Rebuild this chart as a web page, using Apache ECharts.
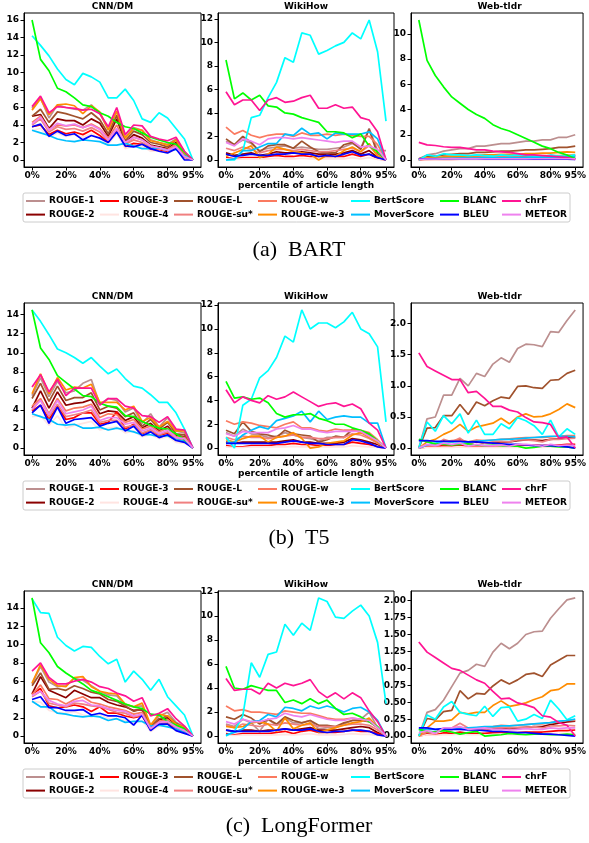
<!DOCTYPE html>
<html>
<head>
<meta charset="utf-8">
<script src="https://cdn.jsdelivr.net/npm/echarts@6.0.0/dist/echarts.min.js"></script>
<style>
  html, body { margin: 0; padding: 0; background: #fff; }
  #chart { width: 589px; height: 843px; }
</style>
</head>
<body>
<div id="chart"></div>
<script>
// metric names, in legend (column) order
const metrics = ['ROUGE-1', 'ROUGE-2', 'ROUGE-3', 'ROUGE-4', 'ROUGE-L', 'ROUGE-su*', 'ROUGE-w',
                 'ROUGE-we-3', 'BertScore', 'MoverScore', 'BLANC', 'BLEU', 'chrF', 'METEOR'];
const pcts = [0, 5, 10, 15, 20, 25, 30, 35, 40, 45, 50, 55, 60, 65, 70, 75, 80, 85, 90, 95];
const xTickIdx = [0, 4, 8, 12, 16, 19];
const datasetNames = ['CNN/DM', 'WikiHow', 'Web-tldr'];
const captions = ['(a)  BART', '(b)  T5', '(c)  LongFormer'];

// ---- (a) BART ----
const bartCnn = {
    'ROUGE-1':    [5.9, 7.1, 4.8, 6.3, 6.0, 5.8, 5.7, 6.3, 5.3, 3.5, 5.5, 2.6, 3.7, 3.4, 2.3, 2.0, 1.8, 2.4, 0.7, 0],
    'ROUGE-2':    [5.0, 5.2, 3.6, 4.7, 4.5, 4.5, 4.0, 4.7, 4.2, 2.7, 4.7, 2.0, 2.9, 2.5, 1.7, 1.5, 1.3, 2.0, 0.4, 0],
    'ROUGE-3':    [3.8, 4.0, 2.9, 3.4, 3.0, 3.2, 2.9, 3.4, 2.8, 2.0, 3.3, 1.5, 1.9, 1.8, 1.2, 1.1, 0.9, 1.4, 0.2, 0],
    'ROUGE-4':    [3.4, 3.6, 2.6, 3.1, 2.7, 2.9, 2.6, 3.0, 2.5, 1.8, 3.0, 1.3, 1.6, 1.6, 1.0, 1.0, 0.8, 1.2, 0.2, 0],
    'ROUGE-L':    [5.0, 5.8, 4.3, 5.5, 5.3, 5.0, 4.7, 5.4, 4.6, 3.0, 5.1, 2.2, 3.3, 2.9, 2.0, 1.8, 1.5, 2.3, 0.5, 0],
    'ROUGE-su*':  [4.0, 4.7, 3.2, 3.8, 3.5, 3.6, 3.3, 3.7, 3.2, 2.2, 3.5, 1.8, 2.3, 2.0, 1.4, 1.3, 1.1, 1.6, 0.3, 0],
    'ROUGE-w':    [4.3, 5.0, 3.5, 4.0, 3.9, 4.0, 3.7, 4.1, 3.6, 2.5, 4.0, 1.9, 2.6, 2.3, 1.6, 1.4, 1.2, 1.8, 0.4, 0],
    'ROUGE-we-3': [5.7, 7.0, 5.2, 6.3, 6.4, 6.2, 5.3, 6.2, 5.5, 3.4, 5.6, 2.5, 3.6, 3.4, 2.2, 2.0, 1.7, 2.3, 0.7, 0],
    'BertScore':  [14.2, 13.1, 11.9, 10.4, 9.2, 8.6, 9.9, 9.5, 8.9, 7.1, 7.1, 8.1, 6.8, 4.7, 4.3, 5.4, 4.8, 3.6, 2.4, 0],
    'MoverScore': [3.4, 3.1, 2.8, 2.4, 2.2, 2.1, 2.3, 2.2, 2.1, 1.7, 1.7, 1.9, 1.6, 1.3, 1.3, 1.4, 1.1, 1.2, 0.5, 0],
    'BLANC':      [16.0, 11.5, 10.2, 8.2, 7.8, 7.1, 6.3, 6.1, 5.4, 5.0, 4.3, 3.8, 3.6, 3.1, 2.6, 2.3, 2.0, 1.8, 0.9, 0],
    'BLEU':       [3.8, 4.1, 2.7, 3.3, 2.8, 3.0, 2.3, 2.8, 2.5, 2.0, 3.2, 1.6, 1.5, 1.8, 1.3, 1.0, 0.8, 1.3, 0.0, 0],
    'chrF':       [6.1, 7.3, 5.4, 6.1, 6.0, 5.9, 5.7, 5.8, 5.3, 3.8, 6.0, 2.9, 4.0, 3.9, 2.7, 2.4, 2.2, 2.6, 1.0, 0],
    'METEOR':     [4.1, 4.9, 3.4, 4.2, 3.9, 4.1, 3.7, 4.0, 3.5, 2.3, 3.6, 2.0, 2.6, 2.3, 1.6, 1.4, 1.1, 1.5, 0.4, 0]
};
const bartWiki = {
    'ROUGE-1':    [1.6, 1.3, 1.7, 1.4, 0.8, 1.0, 1.1, 1.2, 1.0, 1.1, 1.0, 0.9, 0.9, 1.0, 1.1, 1.4, 1.0, 2.7, 0.8, 0.8],
    'ROUGE-2':    [0.6, 0.4, 0.5, 0.6, 0.4, 0.5, 0.7, 0.6, 0.6, 0.7, 0.6, 0.5, 0.5, 0.5, 0.6, 0.8, 0.5, 0.8, 0.2, 0],
    'ROUGE-3':    [0.2, 0.1, 0.2, 0.2, 0.2, 0.3, 0.4, 0.3, 0.3, 0.4, 0.3, 0.3, 0.3, 0.3, 0.3, 0.5, 0.3, 0.5, 0.1, 0],
    'ROUGE-4':    [0.1, 0.05, 0.1, 0.1, 0.1, 0.1, 0.15, 0.1, 0.1, 0.15, 0.1, 0.1, 0.1, 0.1, 0.1, 0.2, 0.1, 0.2, 0.05, 0],
    'ROUGE-L':    [1.8, 1.3, 2.0, 1.5, 0.7, 1.2, 1.3, 1.3, 1.0, 1.6, 1.1, 0.7, 0.6, 0.6, 1.3, 1.5, 0.9, 2.6, 0.5, 0],
    'ROUGE-su*':  [1.0, 0.8, 1.1, 0.9, 0.6, 0.8, 0.9, 0.9, 0.8, 0.9, 0.8, 0.7, 0.7, 0.8, 0.9, 1.0, 0.7, 1.2, 0.4, 0],
    'ROUGE-w':    [2.8, 2.2, 2.5, 2.1, 1.9, 2.1, 2.2, 2.2, 2.0, 2.3, 2.1, 2.1, 2.2, 2.1, 2.2, 2.1, 2.0, 2.0, 1.3, 0],
    'ROUGE-we-3': [0.3, 0.6, 0.9, 1.2, 0.2, 0.5, 1.1, 0.9, 0.7, 0.6, 0.5, 0.0, 0.4, 0.3, 0.8, 1.1, 0.7, 1.4, 0.3, 0],
    'BertScore':  [0.0, 0.0, 0.8, 3.6, 3.8, 5.3, 6.6, 8.7, 8.3, 10.8, 10.6, 9.0, 9.3, 9.7, 10.0, 10.8, 10.3, 11.9, 9.2, 3.3],
    'MoverScore': [0.0, 0.1, 0.8, 0.8, 1.1, 1.4, 1.4, 2.2, 2.1, 2.7, 2.2, 2.3, 1.8, 2.3, 2.2, 2.2, 2.2, 2.4, 1.8, 0],
    'BLANC':      [8.5, 5.2, 5.7, 5.1, 5.5, 4.6, 4.5, 4.0, 3.9, 3.6, 3.4, 3.2, 2.4, 2.4, 2.3, 1.9, 2.2, 1.2, 0.7, 0],
    'BLEU':       [0.5, 0.3, 0.4, 0.5, 0.4, 0.4, 0.5, 0.5, 0.6, 0.5, 0.5, 0.3, 0.4, 0.3, 0.5, 0.7, 0.4, 0.5, 0.2, 0],
    'chrF':       [5.8, 4.7, 5.1, 5.1, 4.2, 5.1, 5.3, 4.9, 5.0, 5.3, 5.5, 4.4, 4.4, 4.7, 4.4, 4.5, 3.6, 3.4, 2.4, 0],
    'METEOR':     [1.5, 1.2, 1.8, 1.6, 1.3, 1.8, 1.9, 1.9, 1.8, 1.9, 1.8, 1.7, 1.6, 1.5, 1.6, 1.6, 1.1, 1.2, 0.9, 0]
};
const bartTldr = {
    'ROUGE-1':    [0.1, 0.4, 0.5, 0.7, 0.8, 0.9, 0.9, 1.1, 1.1, 1.2, 1.3, 1.3, 1.4, 1.5, 1.5, 1.6, 1.6, 1.8, 1.8, 2.0],
    'ROUGE-2':    [0.0, 0.1, 0.12, 0.15, 0.17, 0.2, 0.2, 0.22, 0.23, 0.24, 0.26, 0.27, 0.28, 0.29, 0.3, 0.3, 0.32, 0.33, 0.34, 0.35],
    'ROUGE-3':    [0.0, 0.03, 0.04, 0.05, 0.05, 0.06, 0.06, 0.06, 0.07, 0.07, 0.08, 0.08, 0.08, 0.09, 0.09, 0.1, 0.1, 0.1, 0.11, 0.11],
    'ROUGE-4':    [0.0, 0.01, 0.01, 0.02, 0.02, 0.02, 0.02, 0.02, 0.02, 0.03, 0.03, 0.03, 0.03, 0.03, 0.03, 0.03, 0.04, 0.04, 0.04, 0.04],
    'ROUGE-L':    [0.1, 0.3, 0.3, 0.4, 0.45, 0.5, 0.5, 0.6, 0.6, 0.65, 0.7, 0.7, 0.75, 0.8, 0.8, 0.85, 0.9, 1.0, 1.0, 1.1],
    'ROUGE-su*':  [0.0, 0.08, 0.1, 0.12, 0.13, 0.14, 0.14, 0.15, 0.15, 0.16, 0.16, 0.17, 0.17, 0.18, 0.18, 0.19, 0.19, 0.2, 0.2, 0.21],
    'ROUGE-w':    [0.0, 0.15, 0.18, 0.2, 0.22, 0.24, 0.25, 0.27, 0.28, 0.29, 0.3, 0.3, 0.31, 0.32, 0.33, 0.34, 0.34, 0.35, 0.36, 0.37],
    'ROUGE-we-3': [0.1, 0.15, 0.2, 0.25, 0.3, 0.3, 0.3, 0.35, 0.4, 0.4, 0.45, 0.45, 0.45, 0.5, 0.5, 0.55, 0.55, 0.6, 0.65, 0.6],
    'BertScore':  [0.0, 0.4, 0.3, 0.5, 0.4, 0.4, 0.35, 0.4, 0.35, 0.3, 0.4, 0.35, 0.4, 0.35, 0.3, 0.25, 0.4, 0.3, 0.3, 0.4],
    'MoverScore': [0.1, 0.1, 0.12, 0.13, 0.14, 0.15, 0.15, 0.16, 0.17, 0.17, 0.18, 0.19, 0.2, 0.2, 0.21, 0.22, 0.22, 0.23, 0.24, 0.25],
    'BLANC':      [11.1, 7.9, 6.7, 5.8, 5.0, 4.5, 4.0, 3.6, 3.3, 2.8, 2.5, 2.3, 2.0, 1.7, 1.4, 1.1, 0.9, 0.6, 0.4, 0.1],
    'BLEU':       [0.1, 0.1, 0.1, 0.1, 0.1, 0.1, 0.1, 0.1, 0.09, 0.09, 0.09, 0.08, 0.08, 0.08, 0.07, 0.07, 0.07, 0.06, 0.06, 0.05],
    'chrF':       [1.4, 1.2, 1.15, 1.05, 1.0, 1.0, 0.9, 0.8, 0.8, 0.7, 0.65, 0.6, 0.5, 0.4, 0.4, 0.35, 0.3, 0.25, 0.2, 0.05],
    'METEOR':     [0.05, 0.08, 0.08, 0.1, 0.1, 0.1, 0.1, 0.1, 0.1, 0.1, 0.1, 0.1, 0.1, 0.1, 0.1, 0.1, 0.1, 0.1, 0.1, 0.1]
};

// ---- (b) T5 ----
const t5Cnn = {
    'ROUGE-1':    [5.5, 7.4, 5.4, 7.0, 5.8, 6.0, 6.8, 7.2, 4.6, 5.2, 5.0, 3.8, 4.2, 2.6, 3.6, 2.2, 3.2, 1.8, 1.6, 0],
    'ROUGE-2':    [4.2, 6.0, 4.2, 5.9, 4.5, 4.7, 4.8, 5.1, 3.6, 3.9, 3.8, 2.9, 3.3, 2.1, 2.6, 1.8, 2.3, 1.3, 1.2, 0],
    'ROUGE-3':    [3.9, 4.5, 3.0, 4.4, 3.0, 3.2, 3.7, 3.7, 2.5, 2.7, 3.8, 2.0, 2.5, 1.5, 1.9, 1.3, 1.6, 0.9, 0.8, 0],
    'ROUGE-4':    [3.3, 3.4, 2.4, 3.4, 2.1, 2.4, 2.6, 2.8, 1.9, 2.1, 2.2, 1.6, 1.8, 1.2, 1.4, 1.0, 1.2, 0.6, 0.5, 0],
    'ROUGE-L':    [5.2, 6.8, 4.9, 6.5, 5.0, 5.3, 5.3, 5.8, 4.0, 4.4, 4.2, 3.3, 3.7, 2.3, 3.0, 2.0, 2.7, 1.5, 1.4, 0],
    'ROUGE-su*':  [4.0, 5.1, 3.3, 4.6, 3.3, 3.5, 3.7, 4.0, 2.7, 2.9, 2.9, 2.2, 2.4, 1.6, 1.9, 1.4, 1.7, 1.0, 0.9, 0],
    'ROUGE-w':    [4.4, 5.2, 3.6, 5.2, 3.9, 4.2, 4.3, 4.6, 3.2, 3.6, 3.5, 2.7, 3.0, 2.0, 2.3, 1.7, 2.1, 1.2, 1.1, 0],
    'ROUGE-we-3': [5.7, 7.8, 5.7, 7.4, 6.1, 6.4, 6.3, 6.7, 4.8, 4.8, 4.8, 4.0, 4.4, 2.8, 3.2, 2.2, 2.8, 1.8, 1.8, 0],
    'BertScore':  [14.5, 13.3, 11.9, 10.4, 10.0, 9.5, 8.9, 9.5, 8.6, 7.8, 8.3, 7.3, 6.5, 6.3, 5.6, 4.8, 4.8, 3.7, 2.0, 0],
    'MoverScore': [3.6, 3.3, 3.0, 2.5, 2.4, 2.5, 2.1, 2.1, 2.2, 1.9, 2.1, 1.9, 1.7, 1.4, 1.4, 1.2, 1.3, 0.9, 0.7, 0],
    'BLANC':      [14.5, 10.5, 9.3, 7.6, 6.9, 6.2, 5.5, 5.4, 4.7, 4.4, 4.3, 3.4, 3.3, 2.8, 2.4, 2.1, 2.0, 1.5, 0.9, 0],
    'BLEU':       [3.7, 4.5, 2.6, 4.3, 2.6, 3.0, 3.1, 3.2, 2.3, 2.6, 2.8, 1.8, 2.3, 1.3, 1.7, 1.1, 1.4, 0.8, 0.6, 0],
    'chrF':       [6.4, 7.7, 5.9, 7.2, 5.5, 6.3, 6.3, 6.3, 4.5, 5.2, 5.2, 4.4, 4.2, 3.4, 3.3, 2.7, 3.3, 2.0, 1.9, 0],
    'METEOR':     [4.1, 5.0, 3.5, 5.0, 3.6, 3.8, 4.0, 4.4, 2.9, 3.2, 3.2, 2.5, 2.7, 1.8, 2.1, 1.5, 1.9, 1.1, 1.0, 0]
};
const t5Wiki = {
    'ROUGE-1':    [1.3, 1.0, 1.6, 1.2, 1.1, 0.9, 1.0, 1.3, 1.1, 0.9, 0.8, 0.6, 0.9, 0.9, 0.9, 1.5, 1.4, 1.1, 0.6, 0],
    'ROUGE-2':    [0.5, 0.4, 0.5, 0.5, 0.5, 0.5, 0.5, 0.6, 0.7, 0.5, 0.5, 0.4, 0.4, 0.4, 0.5, 0.8, 0.7, 0.5, 0.3, 0],
    'ROUGE-3':    [0.2, 0.1, 0.1, 0.2, 0.2, 0.2, 0.3, 0.3, 0.4, 0.3, 0.3, 0.2, 0.2, 0.3, 0.3, 0.5, 0.4, 0.3, 0.1, 0],
    'ROUGE-4':    [0.1, 0.05, 0.05, 0.1, 0.1, 0.1, 0.1, 0.1, 0.15, 0.1, 0.1, 0.1, 0.1, 0.1, 0.1, 0.2, 0.15, 0.1, 0.05, 0],
    'ROUGE-L':    [1.5, 1.2, 2.2, 1.4, 1.2, 1.1, 0.9, 1.5, 1.2, 1.1, 1.0, 0.5, 0.7, 1.0, 0.9, 1.6, 1.3, 1.2, 0.5, 0],
    'ROUGE-su*':  [0.9, 0.7, 1.0, 0.9, 0.9, 0.8, 0.9, 1.0, 1.1, 0.9, 0.9, 0.8, 0.8, 0.9, 0.9, 1.2, 1.1, 0.8, 0.4, 0],
    'ROUGE-w':    [2.3, 2.0, 2.2, 2.1, 1.9, 1.8, 1.7, 2.0, 2.2, 1.7, 1.7, 1.5, 1.4, 1.6, 1.5, 1.5, 1.5, 1.3, 0.7, 0],
    'ROUGE-we-3': [0.7, 0.5, 0.8, 1.0, 1.0, 0.5, 0.9, 1.0, 1.3, 0.8, 0.0, 0.1, 0.4, 0.5, 0.6, 1.1, 1.3, 0.9, 0.5, 0],
    'BertScore':  [0.9, 0.0, 3.6, 4.1, 5.9, 6.5, 7.6, 9.4, 8.9, 11.6, 10.0, 10.5, 10.5, 10.1, 10.6, 11.4, 10.0, 9.6, 8.5, 2.2],
    'MoverScore': [0.4, 0.5, 1.1, 1.5, 1.8, 1.6, 2.3, 2.5, 2.7, 3.1, 2.2, 3.1, 2.4, 2.6, 2.7, 2.6, 2.6, 2.1, 2.1, 0],
    'BLANC':      [5.6, 4.2, 4.3, 4.1, 4.2, 3.8, 2.9, 2.6, 2.8, 2.8, 2.9, 2.5, 2.3, 2.0, 2.0, 1.7, 1.5, 1.2, 0.6, 0],
    'BLEU':       [0.4, 0.4, 0.4, 0.4, 0.4, 0.4, 0.4, 0.5, 0.6, 0.5, 0.4, 0.4, 0.3, 0.3, 0.3, 0.7, 0.6, 0.4, 0.1, 0],
    'chrF':       [4.9, 3.8, 4.3, 4.0, 3.8, 4.4, 4.1, 4.3, 4.7, 4.3, 3.9, 3.5, 3.7, 3.8, 3.5, 3.7, 3.3, 2.1, 1.5, 0],
    'METEOR':     [1.2, 1.0, 1.4, 1.3, 1.3, 1.3, 1.6, 1.7, 1.9, 1.6, 1.6, 1.4, 1.3, 1.4, 1.4, 1.4, 1.4, 1.0, 0.6, 0]
};
const t5Tldr = {
    'ROUGE-1':    [0.0, 0.47, 0.5, 0.85, 0.85, 1.12, 1.0, 1.2, 1.15, 1.35, 1.45, 1.38, 1.6, 1.67, 1.66, 1.63, 1.87, 1.86, 2.05, 2.22],
    'ROUGE-2':    [0.0, 0.04, 0.05, 0.12, 0.1, 0.14, 0.08, 0.1, 0.08, 0.09, 0.1, 0.1, 0.12, 0.13, 0.13, 0.12, 0.14, 0.15, 0.17, 0.17],
    'ROUGE-3':    [0.0, 0.02, 0.02, 0.04, 0.03, 0.05, 0.02, 0.03, 0.03, 0.03, 0.04, 0.04, 0.04, 0.05, 0.05, 0.04, 0.05, 0.05, 0.06, 0.06],
    'ROUGE-4':    [0.0, 0.01, 0.01, 0.01, 0.01, 0.02, 0.01, 0.01, 0.01, 0.01, 0.01, 0.01, 0.01, 0.02, 0.02, 0.01, 0.02, 0.02, 0.02, 0.02],
    'ROUGE-L':    [0.0, 0.32, 0.33, 0.52, 0.52, 0.7, 0.54, 0.74, 0.68, 0.76, 0.82, 0.8, 0.99, 1.0, 0.97, 0.96, 1.09, 1.1, 1.2, 1.25],
    'ROUGE-su*':  [0.0, 0.05, 0.05, 0.14, 0.1, 0.16, 0.06, 0.12, 0.08, 0.1, 0.11, 0.1, 0.13, 0.13, 0.12, 0.1, 0.14, 0.14, 0.15, 0.16],
    'ROUGE-w':    [0.0, 0.05, 0.06, 0.1, 0.12, 0.13, 0.1, 0.13, 0.12, 0.13, 0.14, 0.15, 0.16, 0.17, 0.17, 0.17, 0.18, 0.19, 0.2, 0.2],
    'ROUGE-we-3': [0.0, 0.1, 0.14, 0.22, 0.28, 0.38, 0.27, 0.34, 0.37, 0.4, 0.48, 0.39, 0.5, 0.55, 0.5, 0.51, 0.55, 0.62, 0.71, 0.65],
    'BertScore':  [0.0, 0.42, 0.27, 0.52, 0.39, 0.55, 0.24, 0.45, 0.22, 0.22, 0.39, 0.31, 0.49, 0.44, 0.36, 0.22, 0.45, 0.18, 0.31, 0.22],
    'MoverScore': [0.0, 0.05, 0.08, 0.1, 0.1, 0.1, 0.1, 0.11, 0.12, 0.13, 0.14, 0.14, 0.15, 0.16, 0.17, 0.18, 0.19, 0.19, 0.19, 0.18],
    'BLANC':      [0.14, 0.1, 0.07, 0.06, 0.05, 0.06, 0.07, 0.05, 0.04, 0.05, 0.04, 0.03, 0.03, 0.0, 0.01, 0.03, 0.03, 0.02, 0.02, 0.0],
    'BLEU':       [0.12, 0.12, 0.11, 0.11, 0.11, 0.11, 0.1, 0.1, 0.09, 0.08, 0.07, 0.06, 0.06, 0.05, 0.04, 0.04, 0.04, 0.03, 0.02, 0.0],
    'chrF':       [1.53, 1.31, 1.24, 1.17, 1.1, 1.1, 0.89, 0.91, 0.8, 0.67, 0.67, 0.61, 0.58, 0.49, 0.42, 0.41, 0.38, 0.16, 0.18, 0.0],
    'METEOR':     [0.0, 0.06, 0.04, 0.08, 0.06, 0.08, 0.03, 0.06, 0.04, 0.04, 0.05, 0.03, 0.06, 0.06, 0.05, 0.03, 0.06, 0.04, 0.05, 0.04]
};

// ---- (c) LongFormer ----
const lfCnn = {
    'ROUGE-1':    [5.7, 7.6, 5.9, 5.4, 5.5, 6.3, 6.1, 5.5, 4.9, 4.5, 4.4, 3.4, 3.2, 3.3, 1.1, 2.2, 2.6, 1.5, 1.0, 0],
    'ROUGE-2':    [4.6, 6.5, 5.0, 4.6, 4.2, 5.0, 4.6, 4.2, 4.2, 3.7, 3.4, 3.2, 2.8, 2.9, 0.9, 1.8, 2.0, 1.2, 0.8, 0],
    'ROUGE-3':    [4.6, 5.2, 3.3, 3.1, 3.2, 3.4, 3.2, 2.7, 3.2, 2.5, 2.5, 2.2, 2.0, 2.2, 0.7, 1.5, 1.4, 0.8, 0.5, 0],
    'ROUGE-4':    [3.8, 3.7, 2.8, 2.6, 2.5, 2.7, 2.3, 2.1, 2.4, 1.9, 1.9, 1.7, 1.5, 1.7, 0.5, 1.1, 1.1, 0.6, 0.3, 0],
    'ROUGE-L':    [5.5, 6.9, 5.1, 5.2, 5.0, 5.5, 5.2, 4.8, 4.6, 4.0, 3.8, 3.3, 2.7, 3.0, 1.0, 1.9, 2.2, 1.4, 0.9, 0],
    'ROUGE-su*':  [4.3, 4.9, 3.6, 3.4, 3.2, 3.6, 3.5, 3.3, 3.2, 2.9, 2.6, 2.5, 2.1, 2.3, 0.8, 1.4, 1.5, 0.9, 0.6, 0],
    'ROUGE-w':    [4.5, 5.6, 4.1, 4.0, 3.5, 4.0, 4.3, 3.7, 3.5, 3.2, 3.0, 2.8, 2.4, 2.6, 0.9, 1.6, 1.8, 1.1, 0.7, 0],
    'ROUGE-we-3': [5.8, 7.8, 6.2, 5.5, 5.4, 6.4, 6.5, 5.4, 4.9, 4.7, 4.6, 3.5, 3.2, 3.6, 1.2, 2.4, 2.2, 1.3, 1.0, 0],
    'BertScore':  [15.0, 13.5, 13.4, 10.8, 9.9, 9.3, 9.8, 9.7, 8.7, 7.9, 8.4, 5.9, 7.1, 6.2, 5.0, 6.2, 4.3, 3.3, 2.3, 0],
    'MoverScore': [3.8, 3.2, 3.2, 2.5, 2.4, 2.2, 2.1, 2.2, 2.1, 1.7, 1.9, 1.5, 1.6, 1.6, 1.1, 1.2, 1.0, 0.8, 0.4, 0],
    'BLANC':      [15.1, 10.2, 9.1, 7.6, 6.9, 6.3, 5.7, 5.0, 4.7, 4.3, 3.9, 3.5, 3.2, 3.0, 2.4, 2.3, 1.6, 1.2, 0.8, 0],
    'BLEU':       [4.0, 4.3, 3.1, 3.1, 2.8, 2.8, 2.9, 2.3, 2.5, 2.2, 2.2, 2.0, 1.2, 2.3, 0.6, 1.3, 1.3, 0.6, 0.3, 0],
    'chrF':       [7.1, 8.0, 6.4, 5.7, 5.7, 6.0, 6.2, 5.9, 5.4, 5.2, 4.7, 4.4, 3.8, 4.2, 2.2, 2.5, 3.0, 1.9, 1.1, 0],
    'METEOR':     [4.4, 4.9, 3.9, 3.5, 3.3, 3.8, 3.9, 3.4, 3.3, 3.0, 2.8, 2.7, 2.2, 2.4, 0.8, 1.5, 1.6, 1.0, 0.6, 0]
};
const lfWiki = {
    'ROUGE-1':    [1.0, 0.8, 1.4, 1.1, 0.4, 1.4, 0.9, 1.5, 1.1, 1.1, 1.3, 0.6, 0.7, 0.7, 1.0, 1.3, 1.4, 2.0, 0.7, 0],
    'ROUGE-2':    [0.5, 0.4, 0.5, 0.5, 0.4, 0.5, 0.5, 0.6, 0.5, 0.6, 0.7, 0.5, 0.5, 0.5, 0.6, 0.7, 0.8, 0.7, 0.3, 0],
    'ROUGE-3':    [0.2, 0.1, 0.2, 0.2, 0.2, 0.2, 0.3, 0.4, 0.2, 0.4, 0.5, 0.3, 0.3, 0.3, 0.4, 0.5, 0.4, 0.4, 0.2, 0],
    'ROUGE-4':    [0.1, 0.05, 0.1, 0.1, 0.1, 0.1, 0.1, 0.15, 0.1, 0.15, 0.2, 0.1, 0.1, 0.1, 0.15, 0.2, 0.15, 0.15, 0.05, 0],
    'ROUGE-L':    [1.6, 1.4, 1.8, 1.5, 1.0, 1.4, 1.0, 1.6, 1.3, 1.1, 1.3, 0.9, 0.9, 0.8, 1.1, 1.3, 1.3, 1.2, 0.7, 0],
    'ROUGE-su*':  [0.9, 0.7, 1.0, 0.9, 0.8, 1.0, 0.9, 1.1, 1.0, 0.9, 1.0, 0.8, 0.8, 0.8, 0.9, 1.0, 1.0, 0.9, 0.5, 0],
    'ROUGE-w':    [2.5, 2.1, 2.2, 2.0, 2.0, 1.9, 1.8, 2.1, 2.0, 1.9, 1.9, 1.7, 1.5, 1.4, 1.4, 1.5, 1.4, 1.2, 0.7, 0],
    'ROUGE-we-3': [0.8, 0.7, 0.8, 1.1, 1.2, 1.0, 0.4, 1.5, 0.6, 0.9, 1.1, 0.3, 0.5, 0.7, 0.9, 1.1, 1.2, 1.5, 0.7, 0],
    'BertScore':  [0.0, 0.4, 1.7, 6.1, 4.9, 6.8, 7.0, 9.3, 8.4, 9.4, 8.8, 11.5, 11.2, 9.9, 9.8, 10.4, 10.9, 10.0, 7.8, 2.7],
    'MoverScore': [0.1, 0.3, 0.6, 1.2, 1.3, 1.8, 1.6, 2.4, 2.3, 2.1, 2.5, 2.3, 2.5, 2.3, 2.0, 2.3, 2.4, 2.0, 1.3, 0],
    'BLANC':      [5.8, 4.0, 3.9, 4.2, 4.0, 3.8, 3.8, 2.8, 3.0, 2.7, 3.1, 2.7, 3.0, 2.3, 1.8, 1.9, 1.6, 1.2, 0.8, 0],
    'BLEU':       [0.5, 0.4, 0.4, 0.4, 0.4, 0.4, 0.5, 0.6, 0.5, 0.5, 0.6, 0.4, 0.3, 0.4, 0.4, 0.5, 0.5, 0.4, 0.1, 0],
    'chrF':       [4.8, 3.8, 3.9, 3.9, 3.5, 4.4, 4.0, 4.4, 4.2, 4.4, 4.7, 3.7, 3.2, 3.6, 3.1, 3.6, 3.2, 2.1, 1.2, 0],
    'METEOR':     [1.2, 1.0, 1.4, 1.2, 1.2, 1.4, 1.5, 1.9, 1.7, 1.6, 1.8, 1.6, 1.4, 1.3, 1.3, 1.5, 1.4, 1.3, 0.7, 0]
};
const lfTldr = {
    'ROUGE-1':    [0.0, 0.35, 0.39, 0.53, 0.73, 0.93, 0.97, 1.06, 1.03, 1.24, 1.37, 1.29, 1.37, 1.5, 1.54, 1.55, 1.74, 1.88, 2.01, 2.04],
    'ROUGE-2':    [0.0, 0.05, 0.06, 0.09, 0.1, 0.12, 0.1, 0.1, 0.1, 0.11, 0.12, 0.11, 0.12, 0.13, 0.14, 0.14, 0.17, 0.19, 0.21, 0.22],
    'ROUGE-3':    [0.0, 0.03, 0.02, 0.05, 0.04, 0.06, 0.04, 0.04, 0.04, 0.05, 0.05, 0.05, 0.05, 0.06, 0.06, 0.06, 0.07, 0.08, 0.08, 0.09],
    'ROUGE-4':    [0.0, 0.02, 0.01, 0.02, 0.02, 0.03, 0.02, 0.02, 0.02, 0.02, 0.03, 0.02, 0.02, 0.03, 0.03, 0.03, 0.03, 0.04, 0.04, 0.04],
    'ROUGE-L':    [0.0, 0.26, 0.24, 0.36, 0.38, 0.67, 0.55, 0.63, 0.62, 0.74, 0.83, 0.77, 0.83, 0.91, 0.93, 0.88, 1.05, 1.12, 1.19, 1.19],
    'ROUGE-su*':  [0.0, 0.06, 0.05, 0.1, 0.12, 0.19, 0.12, 0.1, 0.1, 0.12, 0.13, 0.12, 0.13, 0.13, 0.14, 0.12, 0.15, 0.15, 0.16, 0.15],
    'ROUGE-w':    [0.0, 0.06, 0.06, 0.1, 0.12, 0.12, 0.12, 0.12, 0.13, 0.14, 0.16, 0.15, 0.16, 0.17, 0.18, 0.18, 0.2, 0.21, 0.23, 0.23],
    'ROUGE-we-3': [0.0, 0.12, 0.22, 0.22, 0.24, 0.35, 0.33, 0.35, 0.35, 0.45, 0.52, 0.44, 0.46, 0.49, 0.54, 0.58, 0.67, 0.69, 0.77, 0.77],
    'BertScore':  [0.0, 0.31, 0.25, 0.43, 0.51, 0.35, 0.32, 0.3, 0.44, 0.29, 0.42, 0.43, 0.22, 0.25, 0.32, 0.26, 0.53, 0.4, 0.24, 0.3],
    'MoverScore': [0.1, 0.1, 0.1, 0.1, 0.11, 0.11, 0.12, 0.13, 0.14, 0.14, 0.15, 0.15, 0.16, 0.17, 0.18, 0.19, 0.2, 0.22, 0.23, 0.25],
    'BLANC':      [0.1, 0.07, 0.06, 0.08, 0.06, 0.03, 0.05, 0.07, 0.0, 0.01, 0.02, 0.04, 0.03, 0.02, 0.03, 0.03, 0.02, 0.02, 0.03, 0.02],
    'BLEU':       [0.12, 0.12, 0.1, 0.11, 0.1, 0.1, 0.09, 0.09, 0.08, 0.07, 0.07, 0.06, 0.05, 0.05, 0.04, 0.03, 0.03, 0.02, 0.01, 0.0],
    'chrF':       [1.39, 1.24, 1.16, 1.08, 1.0, 0.97, 0.9, 0.83, 0.78, 0.66, 0.55, 0.56, 0.49, 0.46, 0.42, 0.3, 0.28, 0.2, 0.16, 0.0],
    'METEOR':     [0.05, 0.08, 0.04, 0.12, 0.12, 0.14, 0.1, 0.11, 0.12, 0.1, 0.1, 0.09, 0.1, 0.11, 0.1, 0.1, 0.12, 0.11, 0.12, 0.12]
};

// y tick values per panel (CNN/DM, WikiHow, Web-tldr)
const bartTicks = [[0, 2, 4, 6, 8, 10, 12, 14, 16], [0, 2, 4, 6, 8, 10, 12], [0, 2, 4, 6, 8, 10]];
const t5Ticks = [[0, 2, 4, 6, 8, 10, 12, 14], [0, 2, 4, 6, 8, 10, 12], [0, 0.5, 1, 1.5, 2]];
const lfTicks = [[0, 2, 4, 6, 8, 10, 12, 14], [0, 2, 4, 6, 8, 10, 12], [0, 0.25, 0.5, 0.75, 1, 1.25, 1.5, 1.75, 2]];
const tickDecimals = [[0, 0, 0], [0, 0, 1], [0, 0, 2]];

const panels = [
    {plots: [bartCnn, bartWiki, bartTldr], ticks: bartTicks},
    {plots: [t5Cnn, t5Wiki, t5Tldr], ticks: t5Ticks},
    {plots: [lfCnn, lfWiki, lfTldr], ticks: lfTicks}
];

const colors = ['#bc8f8f', '#8b0000', '#ff0000', '#ffe4e1', '#a0522d', '#f08080', '#fa7a60',
                '#ff8c00', '#00ffff', '#00bfff', '#00ff00', '#0000ff', '#ff1493', '#ee82ee'];

// layout (px)
const colLeft = [24, 218, 411];
const colWidth = [177, 176, 177];
const rowTop = [13, 303, 591];
const rowHeight = [154, 152, 152];
const legendCols = [26, 100, 174, 258, 351, 440, 502];

const font = 'DejaVu Sans';
const grids = [], xAxes = [], yAxes = [], series = [], legends = [], graphics = [];

panels.forEach((panel, p) => {
    panel.plots.forEach((plot, c) => {
        const gi = grids.length;
        let lo = Infinity, hi = -Infinity;
        metrics.forEach(m => plot[m].forEach(v => { lo = Math.min(lo, v); hi = Math.max(hi, v); }));
        const pad = (hi - lo) * 0.05;
        const dec = tickDecimals[p][c];

        grids.push({
            left: colLeft[c], top: rowTop[p], width: colWidth[c], height: rowHeight[p],
            show: true, borderColor: '#000', borderWidth: 1, backgroundColor: 'transparent'
        });
        xAxes.push({
            gridIndex: gi, type: 'value', min: -0.95, max: 19.95,
            name: c === 1 ? 'percentile of article length' : '',
            nameLocation: 'middle', nameGap: 9,
            nameTextStyle: {fontFamily: font, fontWeight: 'bold', fontSize: 9, color: '#000'},
            axisLine: {onZero: false, lineStyle: {color: '#000', width: 1}},
            axisTick: {customValues: xTickIdx, length: 3.5, lineStyle: {color: '#000'}},
            axisLabel: {
                customValues: xTickIdx, formatter: v => pcts[v] + '%', margin: 4,
                fontFamily: font, fontWeight: 'bold', fontSize: 9, color: '#000'
            },
            splitLine: {show: false}
        });
        yAxes.push({
            gridIndex: gi, type: 'value', min: lo - pad, max: hi + pad,
            axisLine: {show: true, onZero: false, lineStyle: {color: '#000', width: 1}},
            axisTick: {show: true, customValues: panel.ticks[c], length: 3.5, lineStyle: {color: '#000'}},
            axisLabel: {
                customValues: panel.ticks[c], formatter: v => v.toFixed(dec), margin: 5,
                fontFamily: font, fontWeight: 'bold', fontSize: 9, color: '#000'
            },
            splitLine: {show: false}
        });
        metrics.forEach((m, k) => {
            series.push({
                name: m, type: 'line', xAxisIndex: gi, yAxisIndex: gi,
                data: plot[m].map((v, i) => [i, v]),
                showSymbol: false, symbol: 'none', silent: true,
                lineStyle: {color: colors[k], width: 1.7},
                itemStyle: {color: colors[k]}
            });
        });
        graphics.push({
            type: 'text', silent: true,
            style: {
                text: datasetNames[c], x: colLeft[c] + colWidth[c] / 2, y: rowTop[p] - 6,
                textAlign: 'center', textVerticalAlign: 'middle', align: 'center', verticalAlign: 'middle',
                font: 'bold 9px "DejaVu Sans"', fill: '#000'
            }
        });
    });

    const bottom = rowTop[p] + rowHeight[p];
    const boxTop = bottom + 26;
    graphics.push({
        type: 'rect', silent: true, z: -1,
        shape: {x: 23, y: boxTop, width: 547, height: 29, r: 2},
        style: {fill: '#fff', stroke: '#cccccc', lineWidth: 1}
    });
    for (let k = 0; k < 7; k++) {
        legends.push({
            orient: 'vertical', left: legendCols[k], top: boxTop + 2, padding: 0,
            data: [metrics[2 * k], metrics[2 * k + 1]],
            icon: 'rect', itemWidth: 19, itemHeight: 2, itemGap: 1.6,
            selectedMode: false,
            textStyle: {fontFamily: font, fontWeight: 'bold', fontSize: 9, color: '#000', lineHeight: 12, padding: [0, 0, 0, -1]}
        });
    }
    graphics.push({
        type: 'text', silent: true,
        style: {
            text: captions[p], x: 299, y: bottom + 83,
            textAlign: 'center', textVerticalAlign: 'middle', align: 'center', verticalAlign: 'middle',
            font: '22px "Liberation Serif"', fill: '#000'
        }
    });
});

const chart = echarts.init(document.getElementById('chart'), null, {renderer: 'canvas'});
chart.setOption({
    animation: false,
    backgroundColor: '#fff',
    grid: grids,
    xAxis: xAxes,
    yAxis: yAxes,
    legend: legends,
    graphic: {elements: graphics},
    series: series
});
</script>
</body>
</html>
